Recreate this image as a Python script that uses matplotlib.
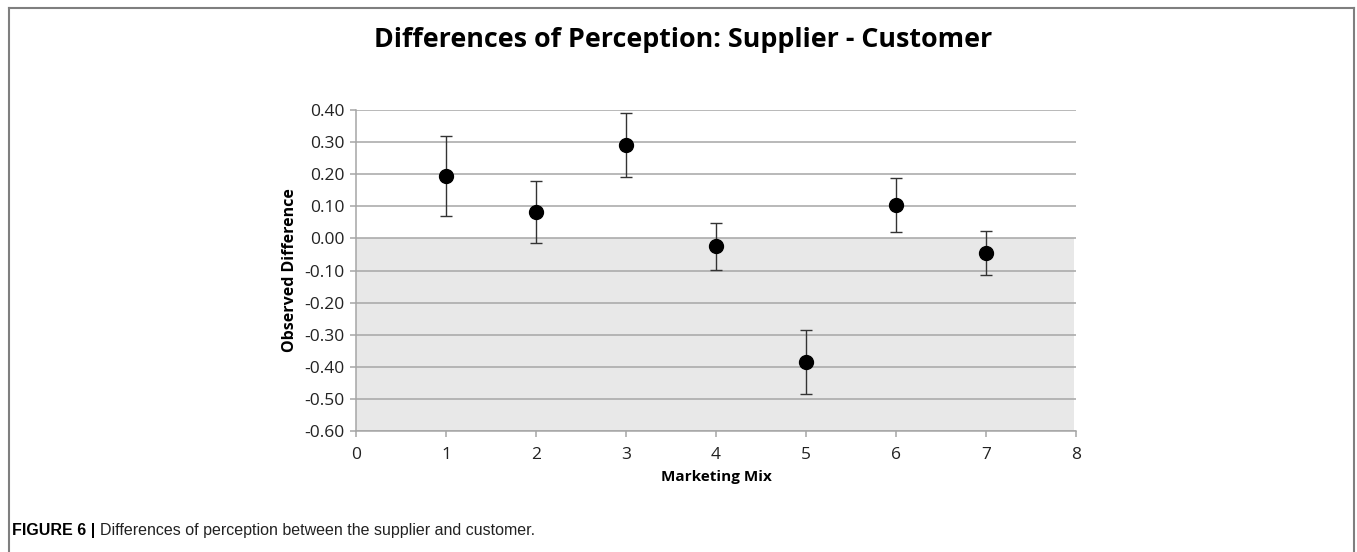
import matplotlib
matplotlib.use("Agg")
import matplotlib.pyplot as plt
from matplotlib.lines import Line2D

# Marketing-mix elements and observed supplier-minus-customer differences
mix = [1, 2, 3, 4, 5, 6, 7]
diff = [0.195, 0.082, 0.291, -0.025, -0.385, 0.103, -0.045]
err = [0.125, 0.097, 0.100, 0.072, 0.100, 0.084, 0.068]
yticks = [0.40, 0.30, 0.20, 0.10, 0.00, -0.10, -0.20, -0.30, -0.40, -0.50, -0.60]
xticks = [0, 1, 2, 3, 4, 5, 6, 7, 8]

fig = plt.figure(figsize=(13.57, 5.52), dpi=100)
ax = fig.add_axes([0.2623, 0.2192, 0.5306, 0.5815])

ax.set_xlim(0, 8)
ax.set_ylim(-0.6, 0.4)

# negative region shaded
ax.axhspan(-0.6, 0.0, xmin=0, xmax=0.997, color="#e8e8e8", zorder=0, lw=0)

for y in yticks:
    ax.axhline(y, color="#a6a6a6", lw=1.1, zorder=1)

ax.errorbar(mix, diff, yerr=err, fmt="o", color="black", ms=10,
            ecolor="#333333", elinewidth=1.0, capsize=4, capthick=1.0, zorder=3)

for s in ["top", "right"]:
    ax.spines[s].set_visible(False)
ax.spines["left"].set_color("#a6a6a6")
ax.spines["bottom"].set_color("#a6a6a6")
ax.spines["left"].set_linewidth(1.1)
ax.spines["bottom"].set_linewidth(1.1)

ax.set_yticks(yticks)
ax.set_yticklabels([f"{v:.2f}" for v in yticks], fontfamily="Open Sans", fontsize=12.5)
ax.set_xticks(xticks)
ax.set_xticklabels([str(v) for v in xticks], fontfamily="Open Sans", fontsize=12.5)
ax.tick_params(axis="both", colors="#a6a6a6", labelcolor="#222222", length=4.5, width=1.1)
ax.tick_params(axis="x", pad=7)
ax.tick_params(axis="y", pad=4)

ax.set_ylabel("Observed Difference", fontfamily="Open Sans", fontweight="bold",
              fontsize=11.5, labelpad=4)
ax.set_xlabel("Marketing Mix", fontfamily="Open Sans", fontweight="bold",
              fontsize=11, labelpad=5)

fig.text(0.5037, 1 - 47 / 552, "Differences of Perception: Supplier - Customer",
         ha="center", va="baseline", fontfamily="Open Sans", fontweight="bold",
         fontsize=19.4)

# caption
cap = fig.text(0.009, 0.039, "FIGURE 6 | ", ha="left", va="center",
               fontfamily="Liberation Sans", fontweight="bold", fontsize=11.5)
fig.canvas.draw()
bb = cap.get_window_extent()
fig.text(bb.x1 / fig.bbox.width, 0.039,
         "Differences of perception between the supplier and customer.",
         ha="left", va="center", fontfamily="Liberation Sans", fontsize=11.5,
         color="#222222")

# frame around the figure (top, left, right)
frame_kw = dict(color="#7f7f7f", lw=1.5, transform=fig.transFigure)
fig.add_artist(Line2D([0.0068, 0.9975], [0.9855, 0.9855], **frame_kw))
fig.add_artist(Line2D([0.0068, 0.0068], [0.0, 0.9855], **frame_kw))
fig.add_artist(Line2D([0.9975, 0.9975], [0.0, 0.9855], **frame_kw))

fig.savefig("out.png", dpi=100)
